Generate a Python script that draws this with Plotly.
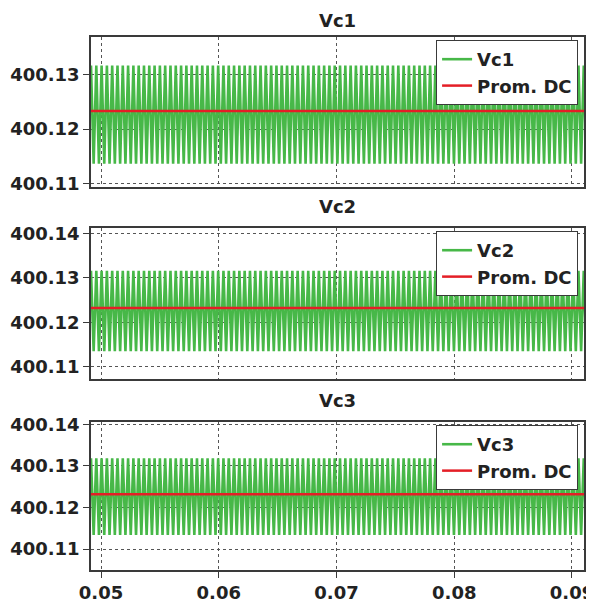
import numpy as np
import plotly.graph_objects as go
from plotly.subplots import make_subplots

# ---- data ----
series_names = ["Vc1", "Vc2", "Vc3"]
t_start = 0.04915
t_end = 0.09102
ripple_period = 0.00045          # seconds, read from stripe spacing
vc_max = [400.1316, 400.1316, 400.1318]
vc_min = [400.1137, 400.1135, 400.1134]
dc_mean = [400.1233, 400.1232, 400.1232]
x_ticks = [0.05, 0.06, 0.07, 0.08, 0.09]
y_ranges = [[400.1095, 400.1368], [400.1072, 400.1412], [400.1050, 400.1406]]
y_ticks = [[400.11, 400.12, 400.13], [400.11, 400.12, 400.13, 400.14],
           [400.11, 400.12, 400.13, 400.14]]

GREEN = "#47b848"
RED = "#e41e26"
FONT = "DejaVu Sans"

# domains (paper fraction) for the three stacked panels
domains = [[0.7191, 1.0], [0.3583, 0.6411], [0.0, 0.2782]]

fig = make_subplots(rows=3, cols=1, shared_xaxes=False)

# peak / trough sample times
t = np.arange(t_start, t_end + ripple_period / 2, ripple_period / 2)

for i, name in enumerate(series_names):
    vals = np.where(np.arange(len(t)) % 2 == 0, vc_max[i], vc_min[i])
    leg = "legend" if i == 0 else f"legend{i+1}"
    fig.add_trace(go.Scatter(x=t, y=vals, mode="lines", name=name,
                             line=dict(color=GREEN, width=2.6),
                             legend=leg), row=i + 1, col=1)
    fig.add_trace(go.Scatter(x=[t_start, t_end], y=[dc_mean[i], dc_mean[i]],
                             mode="lines", name="Prom. DC",
                             line=dict(color=RED, width=2.5),
                             legend=leg), row=i + 1, col=1)

tick_font = dict(family=FONT, size=18, color="#222222", weight="bold")
axis_common = dict(showline=True, mirror=True, linecolor="#3a3a3a", linewidth=1.5,
                   showgrid=True, gridcolor="#555555", griddash="dot", gridwidth=1,
                   zeroline=False, ticks="outside", ticklen=6, tickcolor="#3a3a3a",
                   tickfont=tick_font, automargin=False, ticklabeloverflow="allow")

for i in range(3):
    xa = "xaxis" if i == 0 else f"xaxis{i+1}"
    ya = "yaxis" if i == 0 else f"yaxis{i+1}"
    fig.layout[xa].update(dict(axis_common, range=[t_start, t_end],
                               tickvals=x_ticks, tickformat=".2f",
                               showticklabels=(i == 2),
                               ticks="outside" if i == 2 else ""))
    fig.layout[ya].update(dict(axis_common, range=y_ranges[i], domain=domains[i],
                               tickvals=y_ticks[i], tickformat=".2f"))

legend_y = [0.9944, 0.636, 0.272]
legend_common = dict(x=0.988, xanchor="right", yanchor="top", bgcolor="white",
                     bordercolor="#3a3a3a", borderwidth=1,
                     font=dict(family=FONT, size=18, color="#222222", weight="bold"),
                     tracegroupgap=0, itemwidth=30)
fig.update_layout(
    legend=dict(legend_common, y=legend_y[0]),
    legend2=dict(legend_common, y=legend_y[1]),
    legend3=dict(legend_common, y=legend_y[2]),
)

for i, name in enumerate(series_names):
    fig.add_annotation(text=f"<b>{name}</b>", x=0.5, xref="paper",
                       y=domains[i][1], yref="paper", yanchor="bottom",
                       yshift=5 if i == 0 else 10, showarrow=False, borderpad=0,
                       font=dict(family=FONT, size=18, color="#222222"))

# the page body adds an 8px offset; compensate so the plot area lands where the reference has it
fig.update_layout(width=586, height=595, margin=dict(l=83, r=10, t=29, b=33),
                  paper_bgcolor="white", plot_bgcolor="white", showlegend=True,
                  font=dict(family=FONT, size=18, color="#222222"))

fig.write_html("out.html")
